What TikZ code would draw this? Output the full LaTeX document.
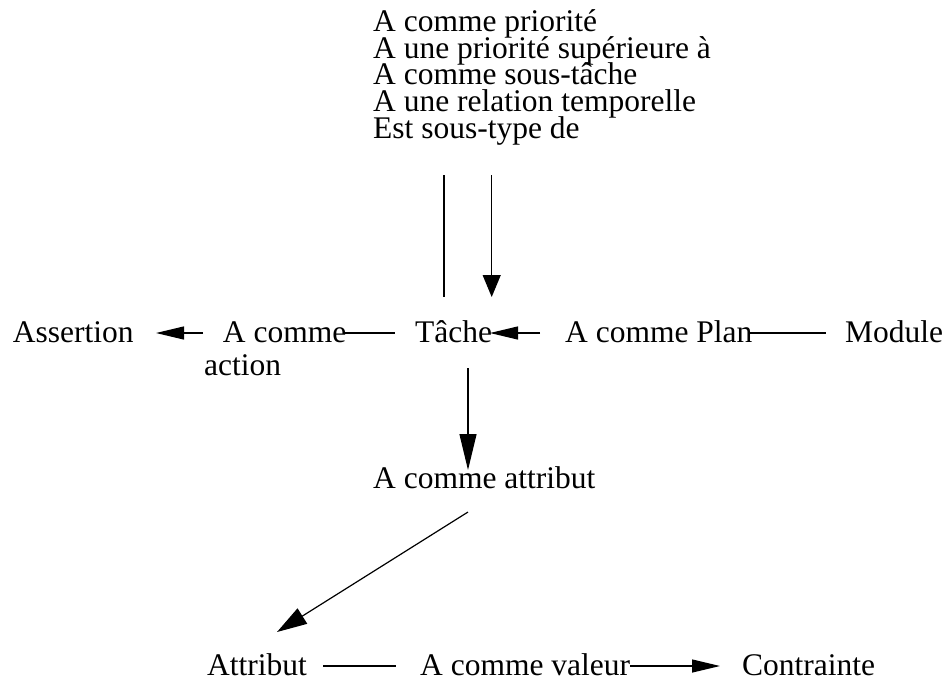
\documentclass[tikz,border=0pt]{standalone}
\usepackage{fontspec}
\setmainfont{Liberation Serif}
\usetikzlibrary{arrows.meta}
\newcommand\tightlines{\lineskiplimit=-100pt\relax\lineskip=0pt\relax}
\begin{document}
\begin{tikzpicture}[x=1pt,y=-1pt,
  lbl/.style={anchor=base west,inner sep=0pt,font=\fontsize{31.5}{26.7}\selectfont\tightlines},
  conn/.style={line width=1.2pt},
  hhead/.style={-{Triangle[length=28pt,width=13pt]}},
  vhead/.style={-{Triangle[length=22pt,width=18pt]}},
  dhead/.style={-{Triangle[length=36pt,width=17pt]}},
  ghead/.style={-{Triangle[length=30pt,width=18pt]}}]
\useasboundingbox (0,0) rectangle (952,681);
% top block (one label of five lines; base anchor = last line)
\node[lbl,align=left] (rels) at (373,138.3) {A comme priorité\\A une priorité supérieure à\\A comme sous-tâche\\A une relation temporelle\\Est sous-type de};
% middle row
\node[lbl] (assertion) at (12.7,342) {Assertion};
\node[lbl] (acomme) at (222.7,342) {A comme};
\node[lbl] (action) at (204,375) {action};
\node[lbl] (tache) at (415,342) {Tâche};
\node[lbl] (plan) at (565,342) {A comme Plan};
\node[lbl] (module) at (845,342) {Module};
% attribute
\node[lbl] (attr) at (373,488) {A comme attribut};
% bottom row
\node[lbl] (attribut) at (207,675) {Attribut};
\node[lbl] (valeur) at (420,675) {A comme valeur};
\node[lbl] (contrainte) at (742,675) {Contrainte};
% connector end points
\coordinate (v1a) at (444,175);
\coordinate (v1b) at (444,297);
\coordinate (v2a) at (491.7,175);
\coordinate (v2b) at (491.7,297);
\coordinate (aa) at (203,333);
\coordinate (ab) at (156,333);
\coordinate (ca) at (343,333);
\coordinate (cb) at (395,333);
\coordinate (pa) at (540,333);
\coordinate (pb) at (490,333);
\coordinate (ma) at (750,333);
\coordinate (mb) at (826,333);
\coordinate (da) at (468,368);
\coordinate (db) at (468,470);
\coordinate (ga) at (468,512);
\coordinate (gb) at (277,632);
\coordinate (ba) at (323,666);
\coordinate (bb) at (396,666);
\coordinate (va) at (630,666);
\coordinate (vb) at (720,666);
% connectors
\draw[conn] (v1a) -- (v1b);
\draw[conn,vhead] (v2a) -- (v2b);
\draw[conn,hhead] (aa) -- (ab);
\draw[conn] (ca) -- (cb);
\draw[conn,hhead] (pa) -- (pb);
\draw[conn] (ma) -- (mb);
\draw[conn,dhead] (da) -- (db);
\draw[conn,ghead] (ga) -- (gb);
\draw[conn] (ba) -- (bb);
\draw[conn,hhead] (va) -- (vb);
\end{tikzpicture}
\end{document}
